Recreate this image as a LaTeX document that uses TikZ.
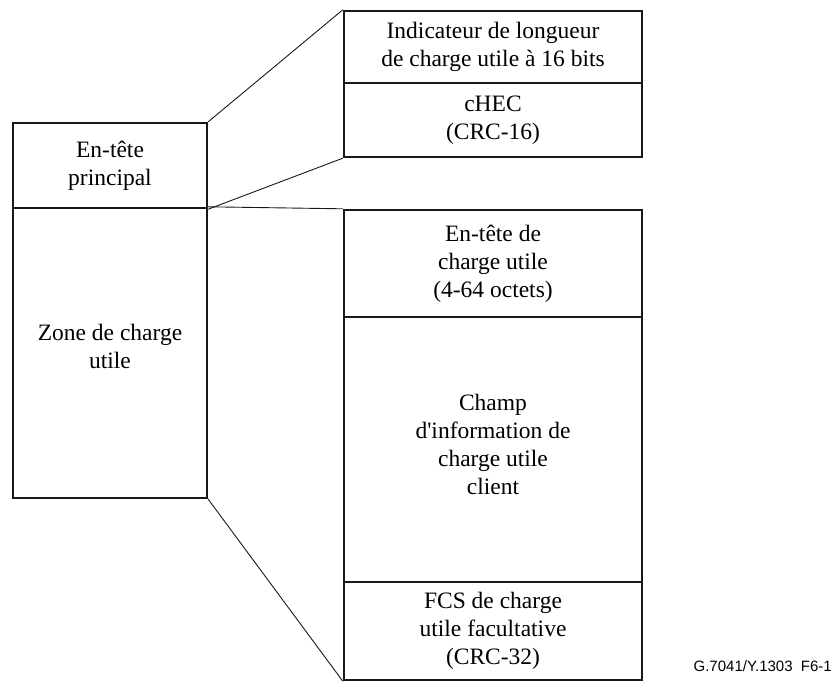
\documentclass[tikz,border=0pt]{standalone}
\usepackage{fontspec}
\setmainfont{Liberation Serif}
\newfontfamily\labelfont{Liberation Sans}
\begin{document}
\begin{tikzpicture}[x=1pt,y=-1pt,
  cell/.style={draw=black!90,line width=2.4pt,inner sep=0pt,align=center,
    font=\fontsize{23.5}{28}\selectfont},
  celltext/.style={align=center,inner sep=0pt,font=\fontsize{23.5}{28}\selectfont},
  link/.style={draw=black!90,line width=0.9pt}]
\useasboundingbox (0,0) rectangle (838,692);
% left column
\node[cell,minimum width=194pt,minimum height=85pt] (hdr) at (110,165.5) {En-tête\\principal};
\node[cell,minimum width=194pt,minimum height=290pt] (zone) at (110,353) {};
\node[celltext] (zonet) at (110,346) {Zone de charge\\utile};
% right top
\node[cell,minimum width=298pt,minimum height=72pt] (pli) at (493,47) {Indicateur de longueur\\de charge utile à 16 bits};
\node[cell,minimum width=298pt,minimum height=74pt] (chec) at (493,120) {cHEC\\(CRC-16)};
% right bottom
\node[cell,minimum width=298pt,minimum height=107pt] (phdr) at (493,263.5) {En-tête de\\charge utile\\(4-64 octets)};
\node[cell,minimum width=298pt,minimum height=265pt] (info) at (493,449.5) {};
\node[celltext] (infot) at (493,444) {Champ\\d\textquotesingle information de\\charge utile\\client};
\node[cell,minimum width=298pt,minimum height=98pt] (fcs) at (493,631) {FCS de charge\\utile facultative\\(CRC-32)};
% connectors
\draw[link] (hdr.north east) -- (pli.north west);
\draw[link] (hdr.south east) -- (chec.south west);
\draw[link] (zone.north east) -- (phdr.north west);
\draw[link] (zone.south east) -- (fcs.south west);
% figure label
\node[font=\labelfont\fontsize{15}{17}\selectfont,anchor=east,inner sep=0pt] (figlbl) at (832,666) {G.7041/Y.1303\ \ F6-1};
\end{tikzpicture}
\end{document}
